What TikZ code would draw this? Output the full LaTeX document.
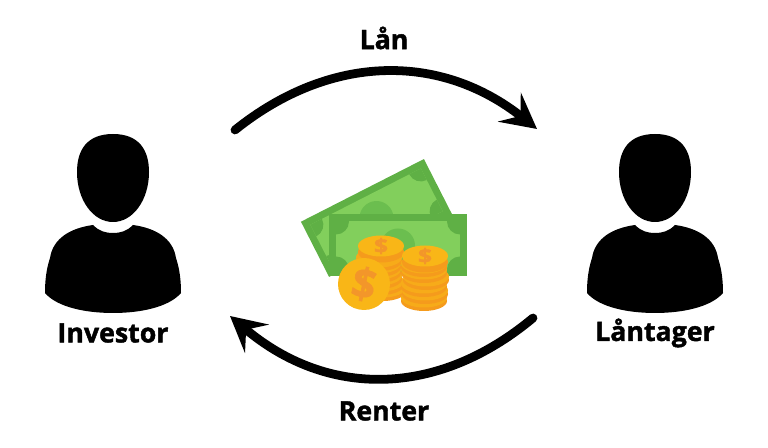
\documentclass[tikz,border=0pt]{standalone}
\usepackage{fontspec}
\setmainfont{Open Sans}[BoldFeatures={FakeBold=1.6}]
\usetikzlibrary{arrows.meta}

\definecolor{billdark}{HTML}{5FB045}
\definecolor{billlight}{HTML}{82CF5C}
\definecolor{billmid}{HTML}{6BBE4F}
\definecolor{coinface}{HTML}{F9B617}
\definecolor{coinedge}{HTML}{F59B1C}
\definecolor{coinmark}{HTML}{F3962A}

\tikzset{
    label/.style={font=\fontsize{15.2}{18}\selectfont\bfseries, text=black, inner sep=0pt},
    flow/.style={line width=5pt, line cap=round, -{Stealth[length=20pt,width=21pt,inset=8pt]}},
    person/.pic={
        \fill[black] (0,134) .. controls (26,134) and (36,150) .. (36,172)
            .. controls (36,200) and (20,222) .. (0,222)
            .. controls (-20,222) and (-36,200) .. (-36,172)
            .. controls (-36,150) and (-26,134) .. (0,134) -- cycle;
        \fill[black] (-20,225) .. controls (-14,231) and (-8,233) .. (0,233)
            .. controls (8,233) and (14,231) .. (20,225)
            .. controls (42,228) and (60,238) .. (63,258)
            .. controls (67,270) and (68,282) .. (68,293)
            .. controls (56,307) and (28,313) .. (0,313)
            .. controls (-28,313) and (-56,307) .. (-68,293)
            .. controls (-68,282) and (-67,270) .. (-63,258)
            .. controls (-60,238) and (-42,228) .. (-20,225) -- cycle;
    },
    bill/.pic={
        \fill[billdark] (-69,-31) rectangle (69,31);
        \fill[billlight] (-62,-24) rectangle (62,24);
        \begin{scope}
            \clip (-62,-24) rectangle (62,24);
            \fill[billmid] (0,0) circle[radius=17];
            \foreach \cx/\cy in {-62/-24,62/-24,-62/24,62/24}
                \fill[billdark] (\cx,\cy) circle[radius=13];
        \end{scope}
    },
    coin/.pic={
        \fill[coinedge] (0,5) ellipse[x radius=23, y radius=10];
        \fill[coinface!60!coinedge] (0,1.5) ellipse[x radius=23, y radius=10];
    },
    topcoin/.pic={
        \fill[coinedge] (0,6) ellipse[x radius=23, y radius=10.5];
        \fill[coinface] (0,0) ellipse[x radius=23, y radius=10.5];
        \node[font=\fontsize{14}{14}\selectfont\bfseries, text=coinmark, inner sep=0pt, yscale=0.8] (-mark) at (0,0) {\$};
    },
}

\begin{document}
\begin{tikzpicture}[x=0.02cm,y=-0.02cm]
    \useasboundingbox (0,0) rectangle (768,448);

    % people
    \pic (investor) at (113,0) {person};
    \pic (borrower) at (655,0) {person};
    \node[label] (investorlabel) at (113,333) {Investor};
    \node[label] (borrowerlabel) at (655,333) {Låntager};

    % arrows
    \node[label] (loan) at (384,38) {Lån};
    \node[label] (interest) at (384,411) {Renter};
    \coordinate (loanstart) at (235,130);
    \coordinate (loanend) at (537,129);
    \coordinate (intereststart) at (533,318);
    \coordinate (interestend) at (230,316);
    \draw [flow] (loanstart) .. controls (331,53) and (441,53) .. (loanend);
    \draw [flow] (intereststart) .. controls (437,398) and (327,398) .. (interestend);

    % money
    \pic[rotate=27] (backbill) at (376.5,218) {bill};
    \pic (frontbill) at (398,245.5) {bill};

    \foreach \n/\cx/\cy in {a/383/286,b/381/280,c/379/274,d/378/268,e/378/262,f/379/256}
        \pic (left\n) at (\cx,\cy) {coin};
    \pic (lefttop) at (381,246) {topcoin};

    \foreach \n/\cx/\cy in {a/424/296,b/425/289,c/424/282,d/426/275,e/424/268,f/424/262}
        \pic (right\n) at (\cx,\cy) {coin};
    \pic (righttop) at (425,256) {topcoin};

    \node[circle, fill=coinface, inner sep=0pt, minimum size=1.04cm, font=\fontsize{24}{24}\selectfont\bfseries, text=coinmark, rotate=-12] (bigcoin) at (364,284) {\$};
\end{tikzpicture}
\end{document}
